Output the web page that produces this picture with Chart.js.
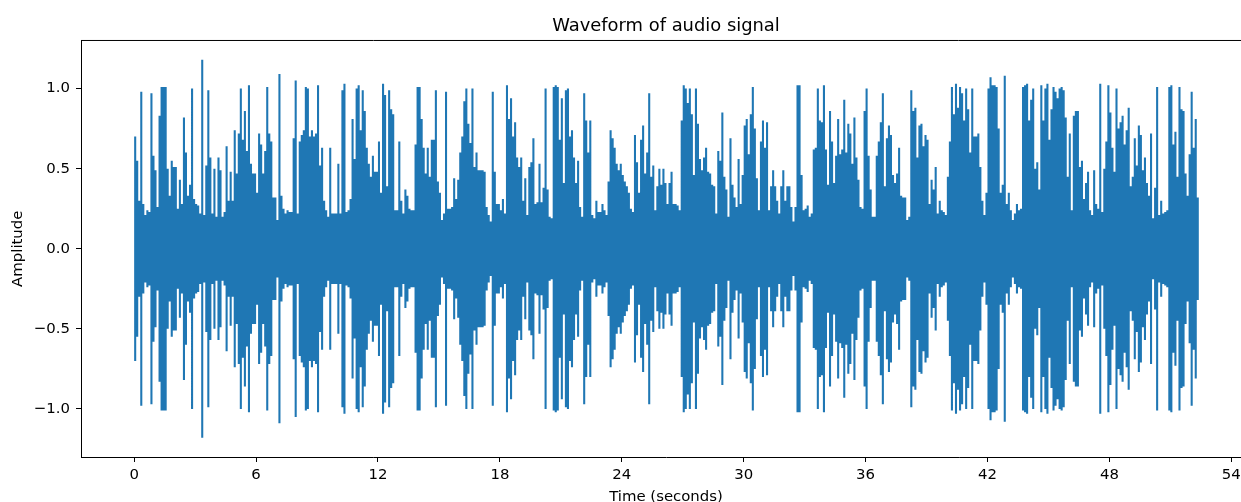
<!DOCTYPE html>
<html><head><meta charset="utf-8">
<style>html,body{margin:0;padding:0;background:#fff;overflow:hidden;width:1241px;height:502px}
#w{width:1241px;height:502px;overflow:hidden;position:relative}
canvas{display:block}</style>
<script src="https://cdn.jsdelivr.net/npm/chart.js@4"></script>
</head><body><div id="w"><canvas id="c" width="1332" height="506" style="width:1332px;height:506px"></canvas></div>
<script>
const titleText = "Waveform of audio signal";
const xLabel = "Time (seconds)";
const yLabel = "Amplitude";
const binSeconds = 0.1;
const peakAmplitude = [
.70,.55,.30,.98,.28,.21,.24,.23,.97,.58,.49,.26,.83,1.01,1.01,1.01,.50,.33,.55,.51,.51,.25,.43,.28,.82,.60,.33,.40,1.0,.31,.28,.27,.22,1.18,.21,.52,.99,.57,.22,.50,.20,.57,.49,.20,.23,.64,.30,.48,.30,.74,.47,.72,1.0,.68,.86,.61,1.02,.53,.47,.47,.35,.72,.65,.47,.61,1.01,.72,.67,.32,.32,.18,1.09,.33,.25,.22,.24,.23,.23,.69,1.05,.22,.67,.71,.74,1.01,1.0,.70,.74,.70,.72,1.02,.52,.63,.30,.24,.20,.63,.22,.22,.22,.53,.22,.99,1.03,.23,.24,.31,.81,.56,1.0,1.02,.74,.99,.86,.63,.53,.45,.58,.48,.48,.67,.35,1.03,.96,.39,.99,.87,.84,.24,.24,.67,
.30,.22,.37,.33,.25,.24,.24,.65,1.01,1.01,.81,.63,.47,.63,.45,.68,.68,.99,.42,.35,.18,.22,.98,.25,.25,.26,.44,.31,.43,.60,.70,.92,1.0,.78,.66,1.0,.51,.60,.49,.49,.49,.48,.26,.21,.17,.98,.48,.28,.28,.24,.31,.22,1.02,.81,.94,.70,.79,.57,.51,.57,.30,.44,.21,.51,.54,.69,.28,.29,.53,.29,.38,1.0,.37,.20,.19,1.01,1.02,1.01,.68,.94,.41,.99,1.0,.70,.74,.57,.41,.55,.26,.20,.97,.80,.60,.80,.21,.19,.30,.23,.23,.28,.24,.21,.42,.74,.69,.63,.53,.49,.53,.46,.42,.39,.35,.25,.23,.71,.54,.35,.68,.77,.47,.60,.97,.45,.52,.24,.39,.50,.40,.50,.41,.28,.41,.48,.28,.28,.27,.24,
.80,1.02,1.0,.91,1.0,.84,.46,1.0,.78,.56,.49,.57,.63,.48,.47,.40,.39,.22,.61,.55,.85,.45,.37,.20,.69,.40,.32,.26,.56,.28,.46,.77,.81,.59,.84,1.01,.75,.44,.24,.67,.80,.63,.79,.24,.39,.49,.39,.30,.22,.39,.49,.30,.39,.39,.26,.17,.26,1.02,1.02,.46,.24,.25,.27,.20,.22,.62,.63,1.0,.80,.79,1.02,.62,.40,.86,.67,.41,.58,.81,.59,.62,.93,.60,.78,.72,.53,.82,.57,.43,.26,.25,.86,1.0,.58,.37,.20,.20,.58,.67,.79,.97,.39,.69,.77,.71,.46,.41,.47,.63,.33,.32,.32,.18,.20,.99,.86,.88,.57,.77,.78,.64,.71,.68,.28,.43,.37,.51,.22,.30,.24,.23,.21,.45,.67,1.01,.84,1.03,.88,1.01,
.97,.80,1.0,.87,.60,1.0,.70,.70,.72,.51,.30,.21,.35,1.0,1.07,1.02,1.02,1.01,.75,.35,.40,1.08,.28,.35,.24,.18,.22,.28,.24,.25,1.01,1.02,1.03,.80,.93,1.0,.50,.54,.37,1.02,.80,1.0,1.03,.68,.87,1.01,.98,.94,1.0,1.01,.99,.82,.45,.72,.24,.83,.86,.86,.51,.55,.31,.41,.48,.24,.21,.49,.28,.25,1.03,.23,.50,.67,1.02,.85,.63,.48,1.0,.75,.79,.83,.65,.74,.88,.39,.45,.69,.52,.77,.71,.49,.57,.41,.33,.72,.19,.38,1.01,.21,.30,.22,.23,.24,1.01,1.02,.65,.73,.45,1.01,.87,.86,.47,.33,.59,.98,.63,.81,.32
];
const xTicksStep = 6;
const yTicksStep = 0.5;

const times = peakAmplitude.map((_, i) => +(binSeconds * (i + 0.5)).toFixed(2));
const path = [];
peakAmplitude.forEach((a, i) => {
  const t = times[i];
  path.push({x: t, y: 0}, {x: t, y: a}, {x: t, y: -a}, {x: t, y: 0});
});

const frame = {
  id: 'frame',
  afterDraw(chart) {
    const {ctx, chartArea: a} = chart;
    ctx.save();
    ctx.strokeStyle = '#000';
    ctx.lineWidth = 1;
    ctx.beginPath();
    ctx.moveTo(a.left, a.top);
    ctx.lineTo(a.right, a.top);
    ctx.lineTo(a.right, a.bottom);
    ctx.stroke();
    ctx.restore();
  }
};

const tickFont = {family: '"DejaVu Sans"', size: 14.9};
new Chart(document.getElementById('c'), {
  type: 'line',
  data: {datasets: [{
    data: path,
    borderColor: '#1f77b4',
    borderWidth: 2.08,
    borderJoinStyle: 'bevel',
    borderCapStyle: 'butt',
    pointRadius: 0,
    tension: 0,
    fill: false
  }]},
  plugins: [frame],
  options: {
    responsive: false,
    animation: false,
    parsing: false,
    normalized: true,
    layout: {padding: {left: 0, right: 81, top: 0, bottom: 0}},
    plugins: {
      legend: {display: false},
      tooltip: {enabled: false},
      decimation: {enabled: false},
      title: {
        display: true, fullSize: false, text: titleText, color: '#000',
        font: {family: '"DejaVu Sans"', size: 17.9, weight: 'normal'},
        padding: {top: 15.5, bottom: 3.5}
      }
    },
    scales: {
      x: {
        type: 'linear', min: -2.617, max: 54.97,
        afterFit(s) { s.height = 49; },
        grid: {drawOnChartArea: false, drawTicks: true, tickLength: 5, color: '#000'},
        border: {color: '#000', width: 1},
        ticks: {stepSize: xTicksStep, includeBounds: false, autoSkip: false, maxRotation: 0, color: '#000', font: tickFont, padding: 4},
        title: {display: true, text: xLabel, color: '#000', font: tickFont, padding: {top: 0, bottom: 0}}
      },
      y: {
        type: 'linear', min: -1.3, max: 1.3,
        afterFit(s) { s.width = 81; },
        grid: {drawOnChartArea: false, drawTicks: true, tickLength: 5, color: '#000'},
        border: {color: '#000', width: 1},
        ticks: {stepSize: yTicksStep, includeBounds: false, autoSkip: false, color: '#000', font: tickFont, padding: 6,
          callback: v => (v < 0 ? '\u2212' : '') + Math.abs(v).toFixed(1)},
        title: {display: true, text: yLabel, color: '#000', font: tickFont, padding: {top: 9, bottom: 0}}
      }
    }
  }
});
</script></body></html>
